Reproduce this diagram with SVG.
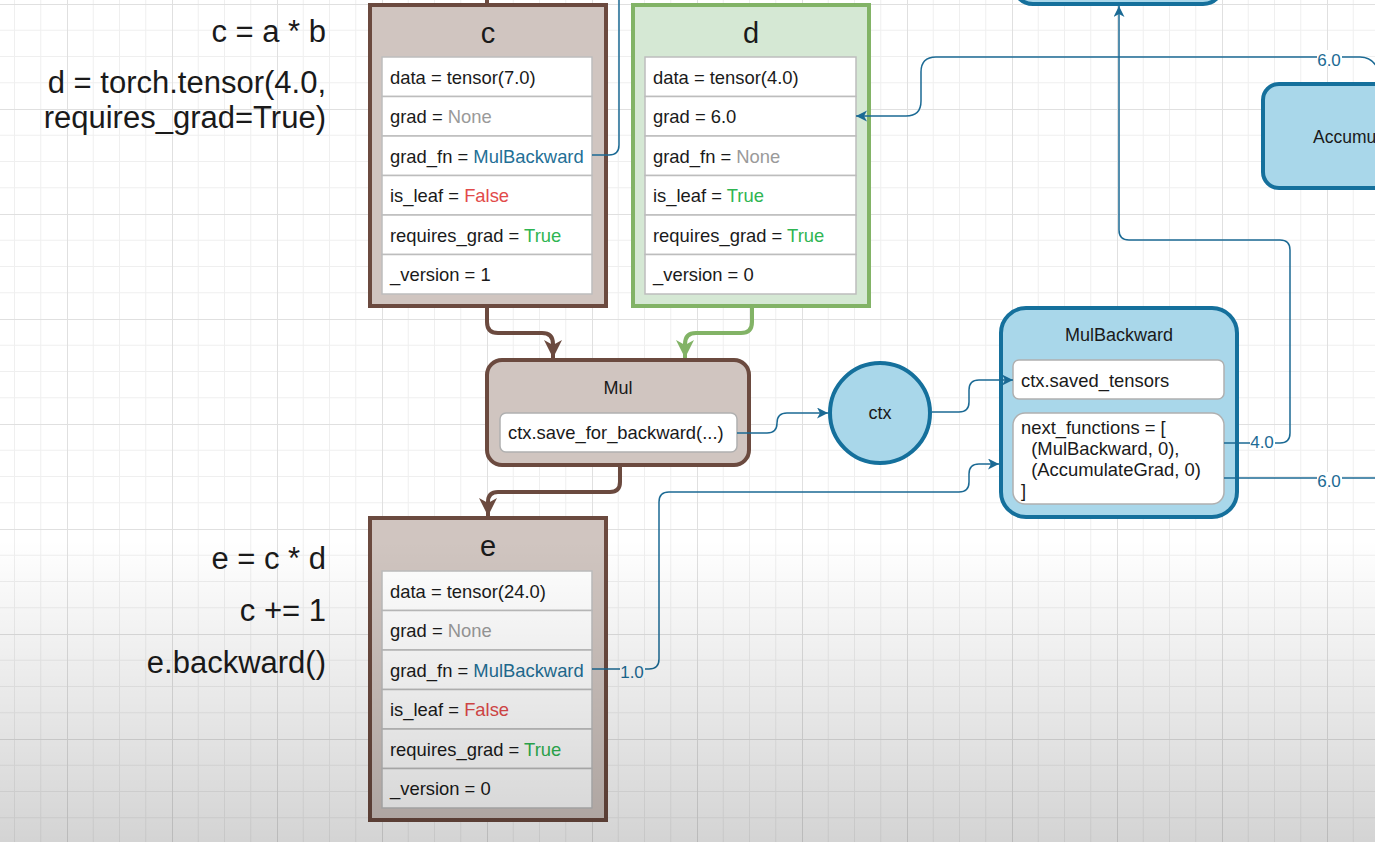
<svg xmlns="http://www.w3.org/2000/svg" width="1375" height="842" viewBox="0 0 1375 842">
<style>
text{font-family:"Liberation Sans",Arial,sans-serif;fill:#1a1a1a}
.code{font-size:31px;text-anchor:end}
.title{font-size:29px;text-anchor:middle}
.row{fill:#fff;stroke:#bdbdbd;stroke-width:1.5}
.rt{font-size:18.4px}
.none{fill:#9a9a9a}
.fn{fill:#236f96}
.false{fill:#e24a4a}
.true{fill:#2fb552}
.brownbox{fill:#d0c5c0;stroke:#6b4a3f;stroke-width:4}
.greenbox{fill:#d5e8d4;stroke:#82b366;stroke-width:4}
.bluebox{fill:#a9d7ea;stroke:#15709c;stroke-width:4}
.inner{fill:#fff;stroke:#b0b0b0;stroke-width:1.5}
.ntitle{font-size:18px;text-anchor:middle}
.edge{fill:none;stroke:#1b6a94;stroke-width:1.5}
.bedge{fill:none;stroke:#6b4a3f;stroke-width:4}
.gedge{fill:none;stroke:#82b366;stroke-width:4}
.lbl{font-size:17px;fill:#1b6a94;text-anchor:middle}
.lblbg{fill:#fff}
</style>
<defs>
<pattern id="grid" patternUnits="userSpaceOnUse" x="67" y="4" width="105" height="105">
<path d="M26.25 0V105M52.5 0V105M78.75 0V105M0 26.25H105M0 52.5H105M0 78.75H105" stroke="#efefef" stroke-width="1" fill="none"/>
<path d="M0.5 0V105M0 0.5H105" stroke="#e0e0e0" stroke-width="1" fill="none"/>
</pattern>
<linearGradient id="shade" x1="0" y1="0" x2="0" y2="1">
<stop offset="0" stop-color="#000" stop-opacity="0"/>
<stop offset="1" stop-color="#000" stop-opacity="0.17"/>
</linearGradient>
<marker id="ab" markerUnits="userSpaceOnUse" markerWidth="20" markerHeight="20" refX="18" refY="9" orient="auto">
<path d="M0 0L18 9L0 18L5 9Z" fill="#6b4a3f"/>
</marker>
<marker id="ag" markerUnits="userSpaceOnUse" markerWidth="20" markerHeight="20" refX="18" refY="9" orient="auto">
<path d="M0 0L18 9L0 18L5 9Z" fill="#82b366"/>
</marker>
<marker id="abl" markerUnits="userSpaceOnUse" markerWidth="12" markerHeight="12" refX="11" refY="5.5" orient="auto">
<path d="M0 0L11 5.5L0 11L3 5.5Z" fill="#1b6a94"/>
</marker>
</defs>
<rect width="1375" height="842" fill="#fff"/>
<rect width="1375" height="842" fill="url(#grid)"/>

<g id="code">
<text class="code" x="326" y="42">c = a * b</text>
<text class="code" x="326" y="93">d = torch.tensor(4.0,</text>
<text class="code" x="326" y="128">requires_grad=True)</text>
<text class="code" x="326" y="569">e = c * d</text>
<text class="code" x="326" y="621">c += 1</text>
<text class="code" x="326" y="673">e.backward()</text>
</g>

<g id="node-top">
<rect class="bluebox" x="1013" y="-60" width="210" height="64" rx="20"/>
</g>

<g id="node-accumulategrad">
<rect class="bluebox" x="1263" y="84" width="238" height="104" rx="16"/>
<text x="1313" y="143" style="font-size:17.5px">AccumulateGrad</text>
</g>

<g id="node-c">
<rect class="brownbox" x="370" y="5" width="236" height="301"/>
<text class="title" x="488" y="43">c</text>
<rect class="row" x="382" y="57" width="210" height="39.5"/>
<rect class="row" x="382" y="96.5" width="210" height="39.5"/>
<rect class="row" x="382" y="136" width="210" height="39.5"/>
<rect class="row" x="382" y="175.5" width="210" height="39.5"/>
<rect class="row" x="382" y="215" width="210" height="39.5"/>
<rect class="row" x="382" y="254.5" width="210" height="39.5"/>
<text class="rt" x="390" y="83.5">data = tensor(7.0)</text>
<text class="rt" x="390" y="123">grad = <tspan class="none">None</tspan></text>
<text class="rt" x="390" y="162.5">grad_fn = <tspan class="fn">MulBackward</tspan></text>
<text class="rt" x="390" y="202">is_leaf = <tspan class="false">False</tspan></text>
<text class="rt" x="390" y="241.5">requires_grad = <tspan class="true">True</tspan></text>
<text class="rt" x="390" y="281">_version = 1</text>
</g>

<g id="node-d">
<rect class="greenbox" x="633" y="5" width="236" height="301"/>
<text class="title" x="751" y="43">d</text>
<rect class="row" x="645" y="57" width="211" height="39.5"/>
<rect class="row" x="645" y="96.5" width="211" height="39.5"/>
<rect class="row" x="645" y="136" width="211" height="39.5"/>
<rect class="row" x="645" y="175.5" width="211" height="39.5"/>
<rect class="row" x="645" y="215" width="211" height="39.5"/>
<rect class="row" x="645" y="254.5" width="211" height="39.5"/>
<text class="rt" x="653" y="83.5">data = tensor(4.0)</text>
<text class="rt" x="653" y="123">grad = 6.0</text>
<text class="rt" x="653" y="162.5">grad_fn = <tspan class="none">None</tspan></text>
<text class="rt" x="653" y="202">is_leaf = <tspan class="true">True</tspan></text>
<text class="rt" x="653" y="241.5">requires_grad = <tspan class="true">True</tspan></text>
<text class="rt" x="653" y="281">_version = 0</text>
</g>

<g id="node-mul">
<rect class="brownbox" x="487" y="360" width="262" height="105" rx="15"/>
<text class="ntitle" x="618" y="394">Mul</text>
<rect class="inner" x="500" y="413" width="237" height="39" rx="6"/>
<text class="rt" x="508" y="439">ctx.save_for_backward(...)</text>
</g>

<g id="node-ctx">
<circle cx="880" cy="413" r="50" fill="#a9d7ea" stroke="#15709c" stroke-width="4"/>
<text class="ntitle" x="880" y="419">ctx</text>
</g>

<g id="node-mulbackward">
<rect class="bluebox" x="1001" y="308" width="236" height="209" rx="25"/>
<text class="ntitle" x="1119" y="341">MulBackward</text>
<rect class="inner" x="1013" y="360" width="211" height="39" rx="6"/>
<text class="rt" x="1021" y="387">ctx.saved_tensors</text>
<rect class="inner" x="1013" y="413" width="211" height="91" rx="12"/>
<text class="rt" x="1021" y="434">next_functions = [</text>
<text class="rt" x="1021" y="455" xml:space="preserve">  (MulBackward, 0),</text>
<text class="rt" x="1021" y="476" xml:space="preserve">  (AccumulateGrad, 0)</text>
<text class="rt" x="1021" y="497">]</text>
</g>

<g id="node-e">
<rect class="brownbox" x="370" y="518" width="236" height="302"/>
<text class="title" x="488" y="556">e</text>
<rect class="row" x="382" y="571" width="210" height="39.5"/>
<rect class="row" x="382" y="610.5" width="210" height="39.5"/>
<rect class="row" x="382" y="650" width="210" height="39.5"/>
<rect class="row" x="382" y="689.5" width="210" height="39.5"/>
<rect class="row" x="382" y="729" width="210" height="39.5"/>
<rect class="row" x="382" y="768.5" width="210" height="39.5"/>
<text class="rt" x="390" y="597.5">data = tensor(24.0)</text>
<text class="rt" x="390" y="637">grad = <tspan class="none">None</tspan></text>
<text class="rt" x="390" y="676.5">grad_fn = <tspan class="fn">MulBackward</tspan></text>
<text class="rt" x="390" y="716">is_leaf = <tspan class="false">False</tspan></text>
<text class="rt" x="390" y="755.5">requires_grad = <tspan class="true">True</tspan></text>
<text class="rt" x="390" y="795">_version = 0</text>
</g>

<g id="connectors">
<path class="bedge" d="M487 0V4"/>
<path class="edge" d="M592 155H609Q619 155 619 145V0"/>
<path class="bedge" d="M487 308V322Q487 333 498 333H542Q553 333 553 344V358" marker-end="url(#ab)"/>
<path class="gedge" d="M752 308V322Q752 333 741 333H696Q685 333 685 344V358" marker-end="url(#ag)"/>
<path class="bedge" d="M620 467V482Q620 492 610 492H498Q488 492 488 502V516" marker-end="url(#ab)"/>
<path class="edge" d="M737 433H767Q777 433 777 423Q777 413 787 413H828" marker-end="url(#abl)"/>
<path class="edge" d="M932 412H959Q969 412 969 402V390Q969 380 979 380H1013" marker-end="url(#abl)"/>
<path class="edge" d="M592 669H649Q659 669 659 659V502Q659 492 669 492H959Q969 492 969 482V474Q969 464 979 464H999" marker-end="url(#abl)"/>
<path class="edge" d="M1224 443H1280Q1290 443 1290 433V250Q1290 240 1280 240H1129Q1119 240 1119 230V6" marker-end="url(#abl)"/>
<path class="edge" d="M1224 478H1375"/>
<path class="edge" d="M1380 75Q1375 57 1360 57H936Q921 57 921 72V101Q921 116 906 116H856" marker-end="url(#abl)"/>
<rect class="lblbg" x="1317" y="50" width="25" height="16"/>
<text class="lbl" x="1329" y="66">6.0</text>
<rect class="lblbg" x="1250" y="434" width="25" height="14"/>
<text class="lbl" x="1262" y="448">4.0</text>
<rect class="lblbg" x="1317" y="472" width="25" height="15"/>
<text class="lbl" x="1329" y="487">6.0</text>
<rect class="lblbg" x="620" y="663" width="25" height="15"/>
<text class="lbl" x="632" y="678">1.0</text>
</g>

<rect x="0" y="540" width="1375" height="302" fill="url(#shade)" pointer-events="none"/>
</svg>
